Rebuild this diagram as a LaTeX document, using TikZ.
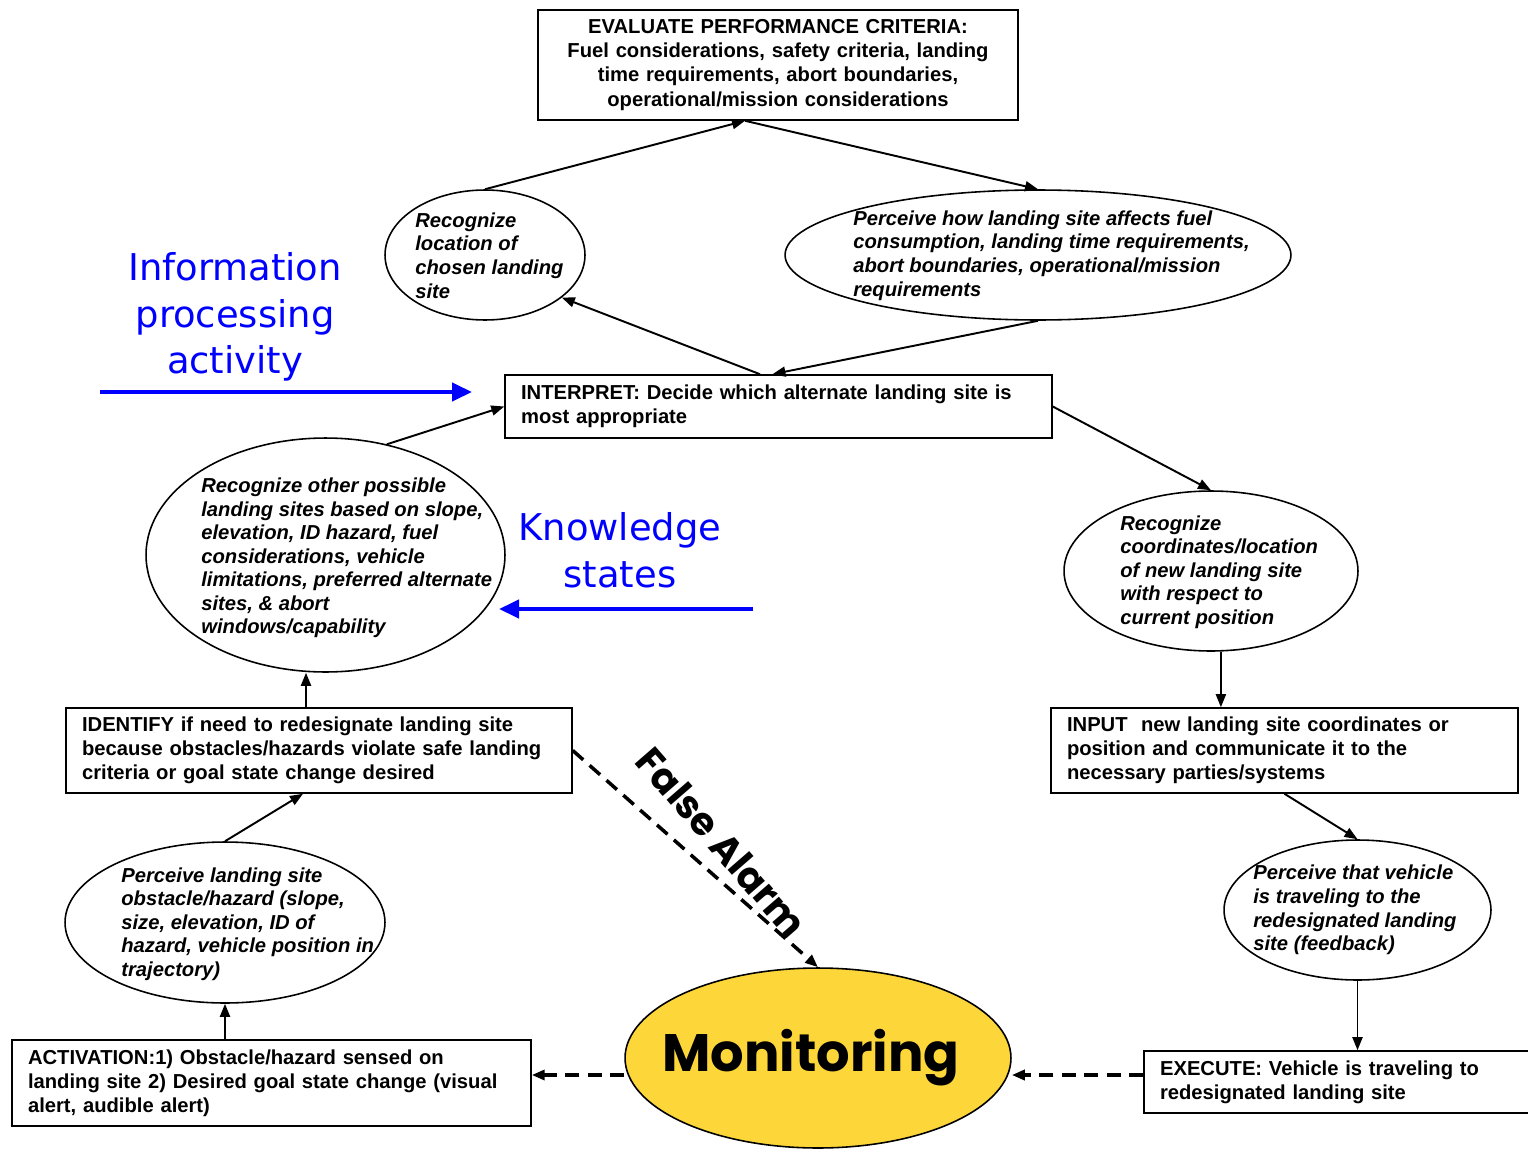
\documentclass[tikz,border=0pt]{standalone}
\usepackage{fontspec}
\setmainfont{Liberation Sans}
\newfontfamily\headfont{DejaVu Sans}
\newfontfamily\comicfont{Poppins}
\usetikzlibrary{positioning,shapes.geometric,arrows.meta}
\definecolor{monitoryellow}{RGB}{253,215,58}

\begin{document}
\begin{tikzpicture}[x=0.02cm, y=-0.02cm,
    procbox/.style={draw, line width=0.9pt, inner xsep=0.32cm, inner ysep=0pt, align=left,
        font=\bfseries\fontsize{11.5}{13.7}\selectfont},
    knowstate/.style={draw, ellipse, line width=0.9pt, inner sep=0pt},
    statetext/.style={anchor=west, inner sep=0pt, align=left,
        font=\bfseries\itshape\fontsize{11.5}{13.4}\selectfont},
    arrow/.style={-{Triangle[length=0.26cm, width=0.2cm]}, line width=1.1pt},
    dasharrow/.style={arrow, dash pattern=on 0.28cm off 0.17cm, line width=2pt},
    bluearrow/.style={-{Triangle[length=0.4cm, width=0.36cm]}, line width=2.4pt, blue},
    bluetext/.style={text=blue, align=center, font=\headfont\fontsize{21}{26.5}\selectfont}
]
\useasboundingbox (0,0) rectangle (1528,1156);

% Top - performance criteria
\node[procbox, align=center, text width=8.96cm, minimum height=2.2cm] (evaluate) at (778,65)
    {EVALUATE PERFORMANCE CRITERIA:\\ Fuel considerations, safety criteria, landing\\
     time requirements, abort boundaries,\\ operational/mission considerations};

\node[knowstate, minimum width=4cm, minimum height=2.6cm] (recogSite) at (485,255) {};
\node[statetext] (recogSiteText) at (415,255.5)
    {Recognize\\ location of\\ chosen landing\\ site};

\node[knowstate, minimum width=10.12cm, minimum height=2.6cm] (perceiveFuel) at (1038,255) {};
\node[statetext] (perceiveFuelText) at (853,255.5)
    {Perceive how landing site affects fuel\\ consumption, landing time requirements,\\
     abort boundaries, operational/mission\\ requirements};

\node[procbox, text width=10.3cm, minimum height=1.26cm] (interpret) at (778.5,406.5)
    {INTERPRET: Decide which alternate landing site is\\ most appropriate};

% Left column
\node[knowstate, minimum width=7.18cm, minimum height=4.68cm] (otherSites) at (325.5,555) {};
\node[statetext] (otherSitesText) at (201,558)
    {Recognize other possible\\ landing sites based on slope,\\ elevation, ID hazard, fuel\\
     considerations, vehicle\\ limitations, preferred alternate\\ sites, \& abort\\ windows/capability};

\node[procbox, text width=9.48cm, minimum height=1.7cm] (identify) at (319,750.5)
    {IDENTIFY if need to redesignate landing site\\ because obstacles/hazards violate safe landing\\
     criteria or goal state change desired};

\node[knowstate, minimum width=6.4cm, minimum height=3.22cm] (perceiveHazard) at (225,922.5) {};
\node[statetext] (perceiveHazardText) at (121,924)
    {Perceive landing site\\ obstacle/hazard (slope,\\ size, elevation, ID of\\
     hazard, vehicle position in\\ trajectory)};

\node[procbox, text width=9.74cm, minimum height=1.72cm] (activation) at (271.5,1083)
    {ACTIVATION:1) Obstacle/hazard sensed on\\ landing site 2) Desired goal state change (visual\\
     alert, audible alert)};

% Right column
\node[knowstate, minimum width=5.88cm, minimum height=3.2cm] (recogCoord) at (1211,571) {};
\node[statetext] (recogCoordText) at (1120,572)
    {Recognize\\ coordinates/location\\ of new landing site\\ with respect to\\ current position};

\node[procbox, text width=8.7cm, minimum height=1.7cm] (input) at (1284.5,750.5)
    {INPUT\ \ new landing site coordinates or\\ position and communicate it to the\\
     necessary parties/systems};

\node[knowstate, minimum width=5.34cm, minimum height=2.8cm] (perceiveTravel) at (1357.5,910) {};
\node[statetext] (perceiveTravelText) at (1253,910)
    {Perceive that vehicle\\ is traveling to the\\ redesignated landing\\ site (feedback)};

\node[procbox, text width=7.2cm, minimum height=1.24cm] (execute) at (1340,1082)
    {EXECUTE: Vehicle is traveling to\\ redesignated landing site};

% Monitoring
\node[knowstate, fill=monitoryellow, minimum width=7.72cm, minimum height=3.6cm] (monitor) at (818,1058) {};
\node[font=\comicfont\bfseries\fontsize{30}{34}\selectfont] (monitorText) at (811,1058) {Monitoring};

% Side labels
\node[bluetext] (infoLabel) at (235,317) {Information\\ processing\\ activity};
\node[bluetext] (knowLabel) at (620,550) {Knowledge\\ states};

\coordinate (infoTail) at (100,392);
\coordinate (infoHead) at (472,392);
\coordinate (knowTail) at (753,609);
\coordinate (knowHead) at (499,609);
\draw[bluearrow] (infoTail) -- (infoHead);
\draw[bluearrow] (knowTail) -- (knowHead);

% Upper loop
\draw[arrow] (recogSite.north) -- ([xshift=-0.66cm]evaluate.south);
\draw[arrow] ([xshift=-0.66cm]evaluate.south) -- (perceiveFuel.north);
\draw[arrow] ([xshift=-0.37cm]interpret.north) -- (recogSite.-29);
\draw[arrow] (perceiveFuel.south) -- ([xshift=-0.12cm]interpret.north);
\draw[arrow] (otherSites.61) -- (interpret.west);

% Right branch
\draw[arrow] (interpret.east) -- (recogCoord.north);
\draw[arrow] (recogCoord.-83) -- (recogCoord.-83 |- input.north);
\draw[arrow] (input.south) -- (perceiveTravel.north);
\draw[arrow] (perceiveTravel.south) -- (perceiveTravel.south |- execute.north);

% Left branch
\draw[arrow] (activation.north -| perceiveHazard.south) -- (perceiveHazard.south);
\draw[arrow] (perceiveHazard.north) -- ([xshift=-0.32cm]identify.south);
\draw[arrow] ([xshift=-0.26cm]identify.north) -- ([xshift=-0.26cm]identify.north |- otherSites.south);

% Dashed returns through monitoring
\draw[dasharrow] ([yshift=0.14cm]execute.west) -- ([yshift=0.14cm]execute.west -| monitor.east);
\draw[dasharrow] ([yshift=0.16cm]activation.east -| monitor.west) -- ([yshift=0.16cm]activation.east);
\draw[dasharrow] (identify.east) -- (monitor.north);
\node[font=\comicfont\bfseries\fontsize{22}{26}\selectfont, rotate=-49] (falseAlarm) at (722,842) {False Alarm};

\end{tikzpicture}
\end{document}
